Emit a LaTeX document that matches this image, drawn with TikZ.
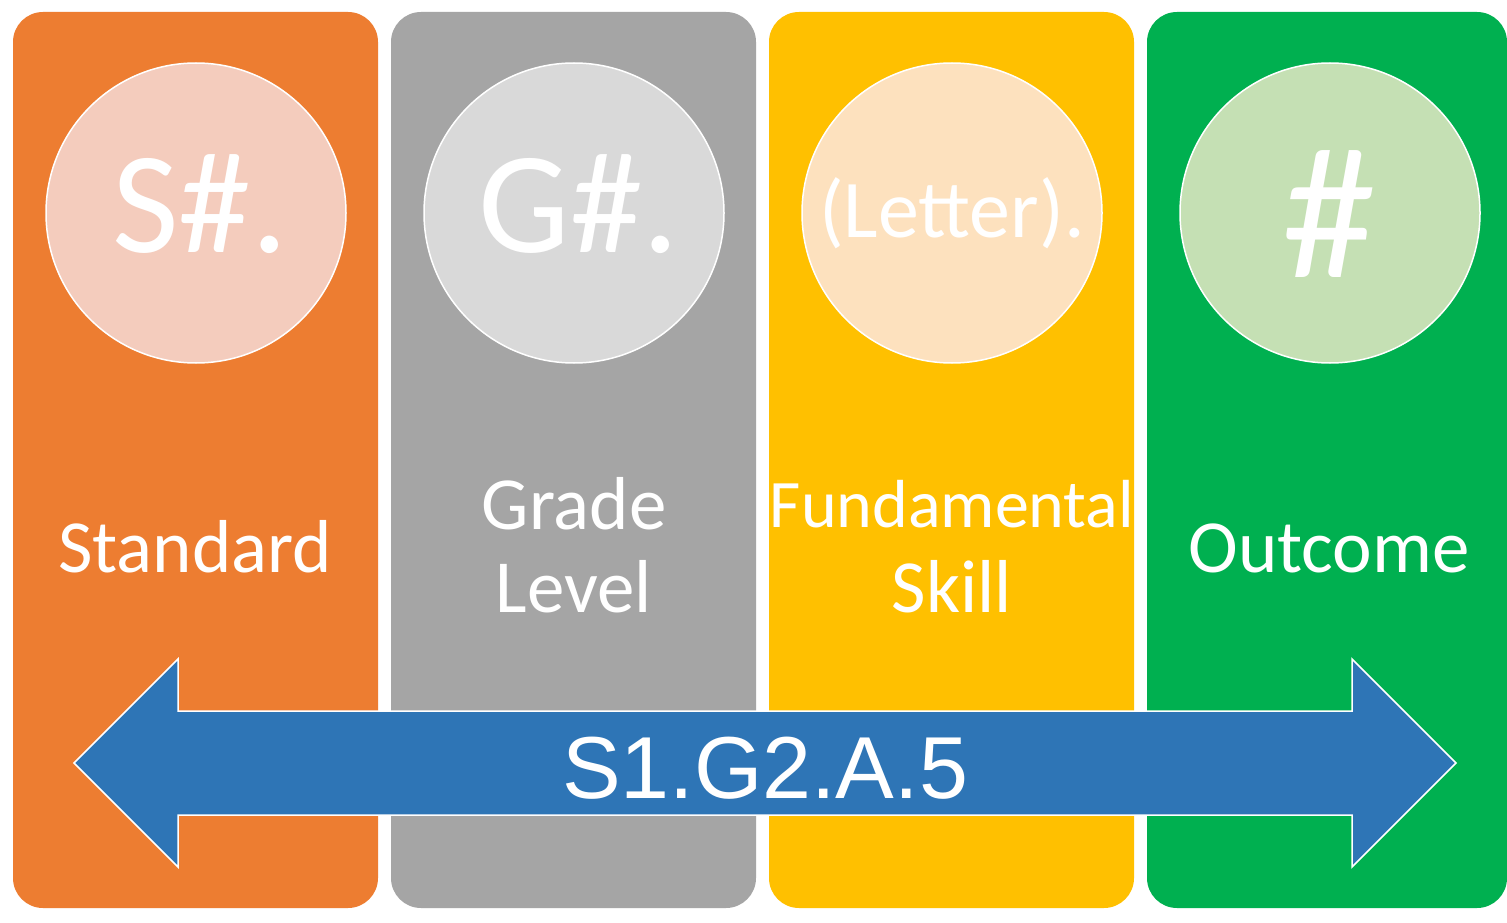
\documentclass[tikz,border=0pt]{standalone}
\usepackage{fontspec}
\setmainfont{Carlito}
\newfontfamily\arialfont{Liberation Sans}
\definecolor{cOrange}{HTML}{ED7D31}
\definecolor{cGray}{HTML}{A5A5A5}
\definecolor{cYellow}{HTML}{FFC000}
\definecolor{cGreen}{HTML}{00B050}
\definecolor{cBlue}{HTML}{2E75B6}
\definecolor{lOrange}{HTML}{F4CCBD}
\definecolor{lGray}{HTML}{D9D9D9}
\definecolor{lYellow}{HTML}{FDE1BE}
\definecolor{lGreen}{HTML}{C5E0B4}
\tikzset{
  column/.style={rounded corners=30pt},
  badge/.style={circle, draw=white, line width=1.5pt, minimum size=300pt, inner sep=0pt},
  badgetext/.style={text=white, anchor=base, inner sep=0pt},
  labeltext/.style={text=white, anchor=base, inner sep=0pt, font=\fontsize{75}{85}\selectfont},
}
\begin{document}
\begin{tikzpicture}[x=1pt,y=-1pt]
\useasboundingbox (0,0) rectangle (1507,923);
\fill[white] (0,0) rectangle (1507,923);
% columns
\fill[cOrange, column] (13,12) rectangle (378,908);
\fill[cGray, column] (391,12) rectangle (756,908);
\fill[cYellow, column] (769,12) rectangle (1134,908);
\fill[cGreen, column] (1147,12) rectangle (1507,908);
% badges
\node[badge, fill=lOrange] (c1) at (196,213) {};
\node[badge, fill=lGray] (c2) at (574,213) {};
\node[badge, fill=lYellow] (c3) at (952,213) {};
\node[badge, fill=lGreen] (c4) at (1330,213) {};
\node[badgetext, font=\fontsize{145}{150}\selectfont] (t1) at (200,252) {S\#.};
\node[badgetext, font=\fontsize{145}{150}\selectfont] (t2) at (579,252) {G\#.};
\node[badgetext, font=\fontsize{82}{90}\selectfont] (t3) at (952,237) {(Letter).};
\node[badgetext, font=\fontsize{188}{195}\selectfont] (t4) at (1329,277) {\#};
% labels
\node[labeltext] (l1) at (195,572) {Standard};
\node[labeltext] (l2a) at (574,529) {Grade};
\node[labeltext] (l2b) at (574,612) {Level};
\node[labeltext, font=\fontsize{68}{80}\selectfont] (l3a) at (952,527) {Fundamental};
\node[labeltext] (l3b) at (952,612) {Skill};
\node[labeltext] (l4) at (1329,572) {Outcome};
% double arrow
\filldraw[fill=cBlue, draw=white, line width=1.5pt, line join=miter]
  (74,763) -- (178,659) -- (178,711) -- (1352,711) -- (1352,659) -- (1456,763)
  -- (1352,867) -- (1352,815) -- (178,815) -- (178,867) -- cycle;
\node[text=white, anchor=base, inner sep=0pt, font=\arialfont\fontsize{88}{96}\selectfont] (code) at (765,798) {S1.G2.A.5};
\end{tikzpicture}
\end{document}
